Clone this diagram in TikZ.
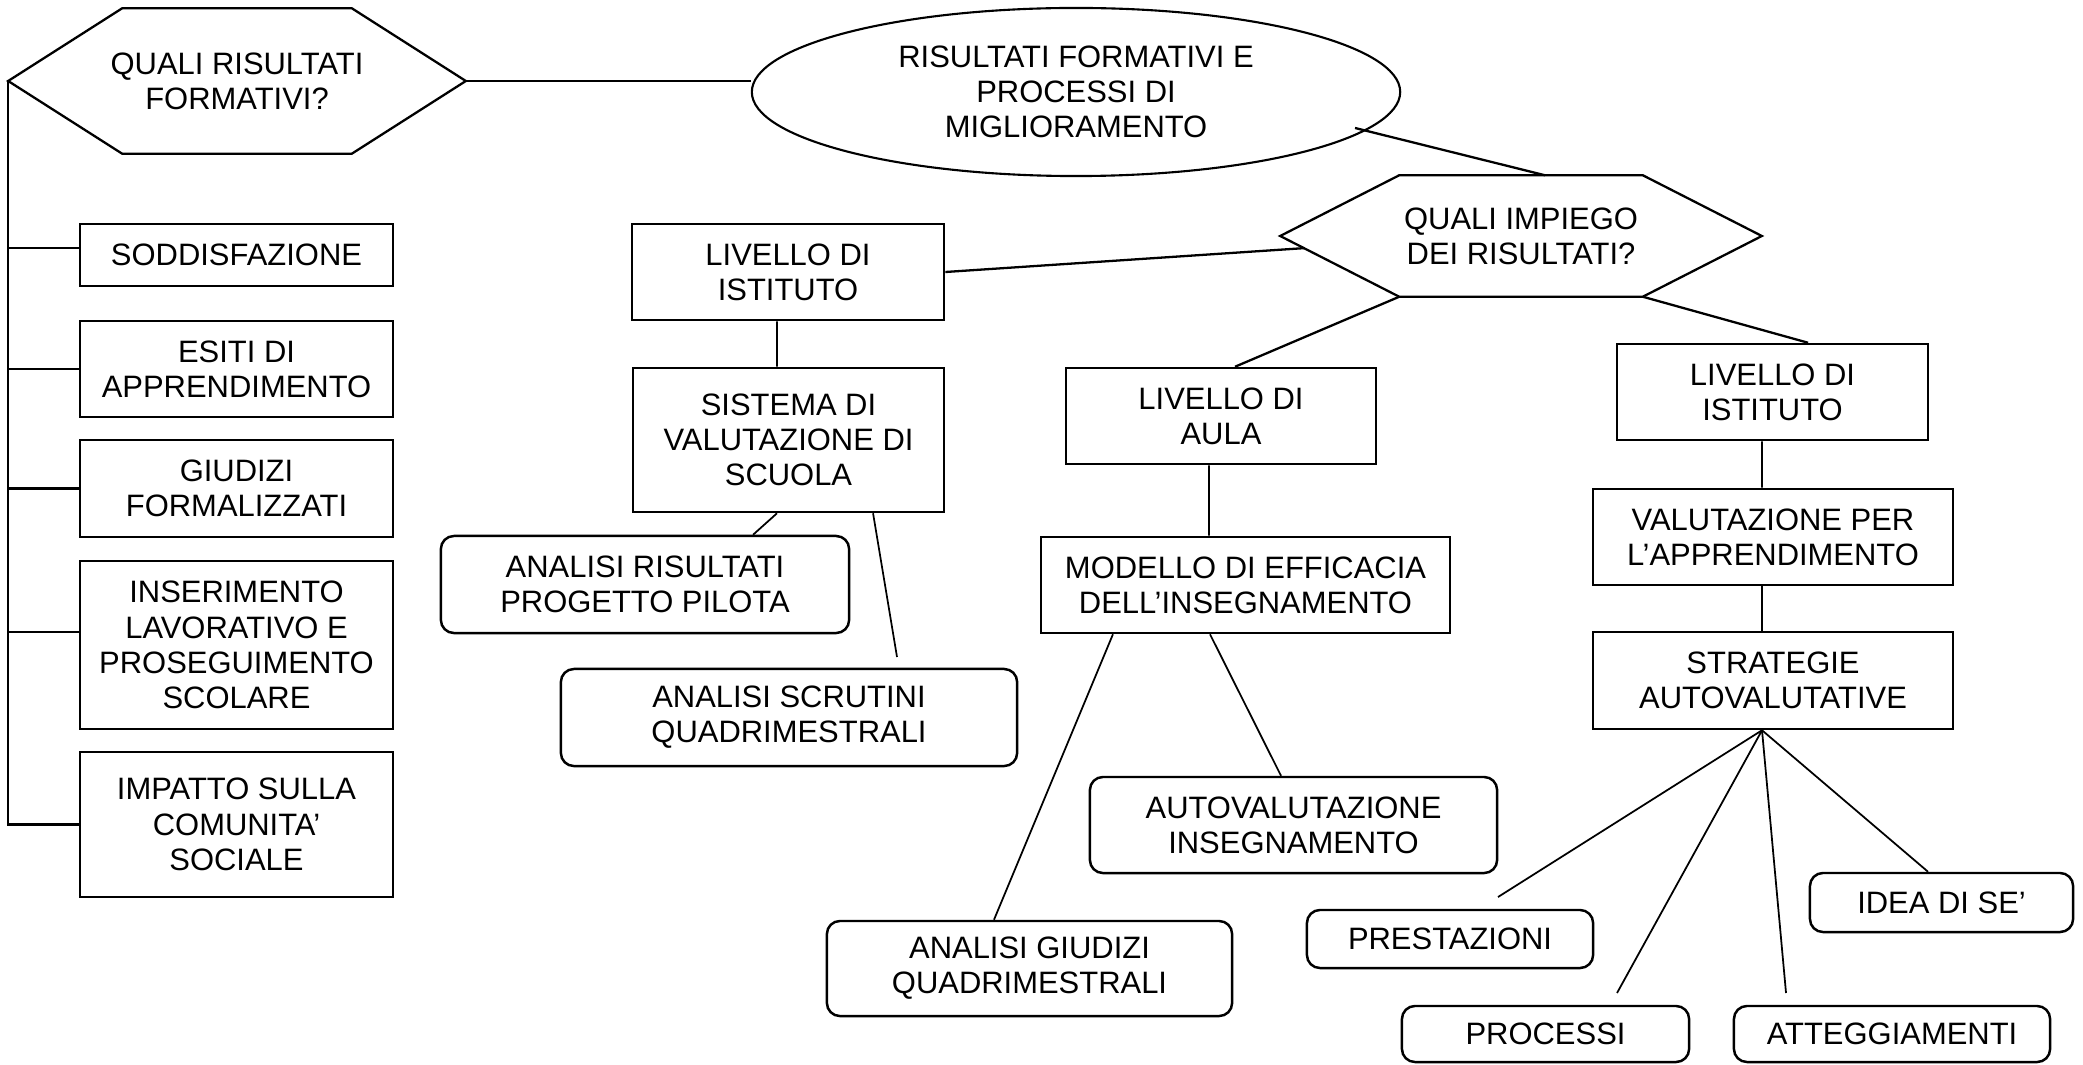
\documentclass[tikz,border=0pt]{standalone}
\usepackage{fontspec}
\setmainfont{Liberation Sans}
\usetikzlibrary{shapes.geometric,calc}

\begin{document}
\begin{tikzpicture}[x=0.01cm,y=-0.01cm,
  txt/.style={align=center,inner sep=0pt,font=\fontsize{8.8}{10}\selectfont},
  box/.style={txt,draw,line width=0.7pt},
  rbox/.style={box,rounded corners=1.3mm},
  hexline/.style={line width=0.65pt},
  link/.style={line width=0.5pt}]
\useasboundingbox (0,0) rectangle (2083,1064);
% top: question hexagons and main ellipse
\node[txt,minimum width=4.56cm,minimum height=1.44cm] (q1) at (237,81) {QUALI RISULTATI\\FORMATIVI?};
\draw[hexline] (q1.west) -- ([xshift=1.14cm]q1.north west) -- ([xshift=-1.14cm]q1.north east) -- (q1.east) -- ([xshift=-1.14cm]q1.south east) -- ([xshift=1.14cm]q1.south west) -- cycle;
\node[box,ellipse,line width=0.6pt,minimum width=6.48cm,minimum height=1.68cm] (ris) at (1076,92) {RISULTATI FORMATIVI E\\PROCESSI DI\\MIGLIORAMENTO};
\node[txt,minimum width=4.8cm,minimum height=1.2cm] (q2) at (1521,236) {QUALI IMPIEGO\\DEI RISULTATI?};
\draw[hexline] (q2.west) -- ([xshift=1.19cm]q2.north west) -- ([xshift=-1.19cm]q2.north east) -- (q2.east) -- ([xshift=-1.19cm]q2.south east) -- ([xshift=1.19cm]q2.south west) -- cycle;
\coordinate (q2bl) at ([xshift=1.19cm]q2.south west);
\coordinate (q2br) at ([xshift=-1.19cm]q2.south east);
\coordinate (rq) at (1355,128);
% left column
\node[box,minimum width=3.13cm,minimum height=0.62cm] (sod) at (236.5,255) {SODDISFAZIONE};
\node[box,minimum width=3.13cm,minimum height=0.96cm] (esi) at (236.5,369) {ESITI DI\\APPRENDIMENTO};
\node[box,minimum width=3.13cm,minimum height=0.97cm] (giu) at (236.5,488.5) {GIUDIZI\\FORMALIZZATI};
\node[box,minimum width=3.13cm,minimum height=1.68cm] (ins) at (236.5,645) {INSERIMENTO\\LAVORATIVO E\\PROSEGUIMENTO\\SCOLARE};
\node[box,minimum width=3.13cm,minimum height=1.45cm] (imp) at (236.5,824.5) {IMPATTO SULLA\\COMUNITA’\\SOCIALE};
% middle branch
\node[box,minimum width=3.12cm,minimum height=0.96cm] (li1) at (788,272) {LIVELLO DI\\ISTITUTO};
\node[box,minimum width=3.11cm,minimum height=1.44cm] (sis) at (788.5,440) {SISTEMA DI\\VALUTAZIONE DI\\SCUOLA};
\node[rbox,minimum width=4.08cm,minimum height=0.97cm] (arp) at (645,584.5) {ANALISI RISULTATI\\PROGETTO PILOTA};
\node[rbox,minimum width=4.56cm,minimum height=0.97cm] (asq) at (789,717.5) {ANALISI SCRUTINI\\QUADRIMESTRALI};
\coordinate (sq) at (897,657);
\node[box,minimum width=3.10cm,minimum height=0.96cm] (aula) at (1221,416) {LIVELLO DI\\AULA};
\node[box,minimum width=4.09cm,minimum height=0.96cm] (mod) at (1245.5,585) {MODELLO DI EFFICACIA\\DELL’INSEGNAMENTO};
\node[rbox,minimum width=4.05cm,minimum height=0.95cm] (agq) at (1029.5,968.5) {ANALISI GIUDIZI\\QUADRIMESTRALI};
\node[rbox,minimum width=4.07cm,minimum height=0.96cm] (aut) at (1293.5,825) {AUTOVALUTAZIONE\\INSEGNAMENTO};
% right branch
\node[box,minimum width=3.11cm,minimum height=0.96cm] (li2) at (1772.5,392) {LIVELLO DI\\ISTITUTO};
\node[box,minimum width=3.60cm,minimum height=0.96cm] (val) at (1773,537) {VALUTAZIONE PER\\L’APPRENDIMENTO};
\node[box,minimum width=3.60cm,minimum height=0.97cm] (str) at (1773,680.5) {STRATEGIE\\AUTOVALUTATIVE};
\node[rbox,minimum width=2.86cm,minimum height=0.58cm] (pre) at (1450,939) {PRESTAZIONI};
\node[rbox,minimum width=2.87cm,minimum height=0.56cm] (pro) at (1545.5,1034) {PROCESSI};
\node[rbox,minimum width=3.16cm,minimum height=0.56cm] (att) at (1892,1034) {ATTEGGIAMENTI};
\node[rbox,minimum width=2.63cm,minimum height=0.59cm] (ide) at (1941.5,902.5) {IDEA DI SE’};
\coordinate (pe) at (1498,897);
\coordinate (pr) at (1617,993);
\coordinate (ae) at (1786,993);
% connectors
\draw[hexline] (q1.east) -- (q1.east -| ris.west);
\draw[hexline] (rq) -- ([xshift=0.24cm]q2.north);
\draw[hexline] (li1.east) -- ($(q2.west)!0.2!(q2bl)$);
\draw[hexline] (q2bl) -- ([xshift=0.14cm]aula.north);
\draw[hexline] (q2br) -- ([xshift=0.355cm]li2.north);
\draw[hexline] (q1.west) |- (imp.west);
\draw[hexline] ([yshift=0.7mm]sod.west) -- ++(-71,0);
\draw[hexline] (esi.west) -- ++(-71,0);
\draw[hexline] (giu.west) -- ++(-71,0);
\draw[hexline] ([yshift=1.3mm]ins.west) -- ++(-71,0);
\draw[link] ([xshift=-1.1mm]li1.south) -- ([xshift=-1.15mm]sis.north);
\draw[link] ([xshift=-1.15mm]sis.south) -- ([xshift=1.08cm]arp.north);
\draw[link] ([xshift=0.845cm]sis.south) -- (sq);
\draw[link] ([xshift=-1.2mm]aula.south) -- ([xshift=-3.65mm]mod.north);
\draw[link] ([xshift=-1.325cm]mod.south) -- ([xshift=-0.355cm]agq.north);
\draw[link] ([xshift=-0.355cm]mod.south) -- ([xshift=-0.125cm]aut.north);
\draw[link] ([xshift=-1.05mm]li2.south) -- ([xshift=-1.1mm]val.north);
\draw[link] ([xshift=-1.1mm]val.south) -- ([xshift=-1.1mm]str.north);
\draw[link] ([xshift=-1.1mm]str.south) -- (pe);
\draw[link] ([xshift=-1.1mm]str.south) -- (pr);
\draw[link] ([xshift=-1.1mm]str.south) -- (ae);
\draw[link] ([xshift=-1.1mm]str.south) -- ([xshift=-1.35mm]ide.north);
\end{tikzpicture}
\end{document}
